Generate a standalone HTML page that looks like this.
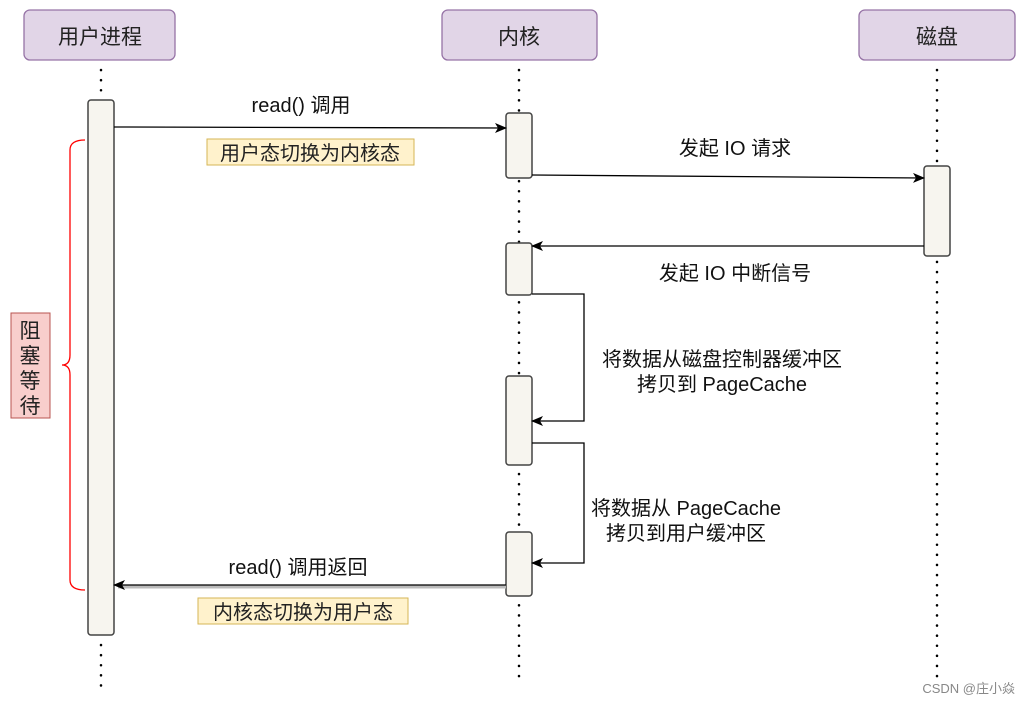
<!DOCTYPE html>
<html><head><meta charset="utf-8"><style>
body{margin:0;background:#fff;width:1031px;height:705px;overflow:hidden;font-family:"Liberation Sans","Noto Sans CJK SC",sans-serif}
</style></head><body>
<svg width="1031" height="705" xmlns="http://www.w3.org/2000/svg" font-family="Liberation Sans, Noto Sans CJK SC, sans-serif">
<defs><marker id="a" markerWidth="12" markerHeight="10" refX="11" refY="5" orient="auto" markerUnits="userSpaceOnUse"><path d="M0,0 L12,5 L0,10 L3,5 Z" fill="#000"/></marker></defs>
<g stroke="#000" stroke-width="2.5" stroke-dasharray="0.1 10" stroke-linecap="round">
<line x1="101" y1="70" x2="101" y2="100"/><line x1="101" y1="645" x2="101" y2="690"/>
<line x1="519" y1="70" x2="519" y2="685"/>
<line x1="937" y1="70" x2="937" y2="680"/>
</g>
<g fill="#e1d5e7" stroke="#9673a6" stroke-width="1.3">
<rect x="24" y="10" width="151" height="50" rx="6"/><rect x="442" y="10" width="155" height="50" rx="6"/><rect x="859" y="10" width="156" height="50" rx="6"/>
</g>
<g font-size="21" text-anchor="middle" fill="#222">
<text x="100" y="44">用户进程</text><text x="519" y="44">内核</text><text x="937" y="44">磁盘</text>
</g>
<g fill="#f7f5ef" stroke="#444" stroke-width="1.5">
<rect x="88" y="100" width="26" height="535" rx="3"/>
<rect x="506" y="113" width="26" height="65" rx="3"/>
<rect x="506" y="243" width="26" height="52" rx="3"/>
<rect x="506" y="376" width="26" height="89" rx="3"/>
<rect x="506" y="532" width="26" height="64" rx="3"/>
<rect x="924" y="166" width="26" height="90" rx="3"/>
</g>
<g stroke="#000" stroke-width="1.3" fill="none" marker-end="url(#a)">
<line x1="114" y1="127" x2="506" y2="128"/>
<line x1="532" y1="175" x2="924" y2="178"/>
<line x1="924" y1="246" x2="532" y2="246"/>
<polyline points="532,294 584,294 584,421 532,421"/>
<polyline points="532,443 584,443 584,563 532,563"/>
</g>
<line x1="506" y1="587" x2="118" y2="587" stroke="#bbb" stroke-width="3"/>
<line x1="506" y1="585" x2="114" y2="585" stroke="#000" stroke-width="1.2" marker-end="url(#a)"/>
<g font-size="20" fill="#111" text-anchor="middle">
<text x="301" y="112">read() 调用</text>
<text x="735" y="155">发起 IO 请求</text>
<text x="735" y="280">发起 IO 中断信号</text>
<text x="722" y="366">将数据从磁盘控制器缓冲区</text>
<text x="722" y="391">拷贝到 PageCache</text>
<text x="686" y="515">将数据从 PageCache</text>
<text x="686" y="540">拷贝到用户缓冲区</text>
<text x="298" y="574">read() 调用返回</text>
</g>
<g fill="#fff2cc" stroke="#d6b656" stroke-width="1">
<rect x="207" y="139" width="207" height="26"/><rect x="198" y="598" width="210" height="26"/>
</g>
<g font-size="20" fill="#222" text-anchor="middle">
<text x="310" y="160">用户态切换为内核态</text><text x="303" y="619">内核态切换为用户态</text>
</g>
<path d="M85,140 Q70,140 70,150 L70,355 Q70,365 62,365 Q70,365 70,375 L70,580 Q70,590 85,590" stroke="#f00" stroke-width="1.3" fill="none"/>
<rect x="11" y="313" width="39" height="105" fill="#f8cecc" stroke="#b85450" stroke-width="1"/>
<g font-size="21" fill="#222" text-anchor="middle">
<text x="30" y="338">阻</text><text x="30" y="363">塞</text><text x="30" y="388">等</text><text x="30" y="413">待</text>
</g>
<text x="1015" y="693" font-size="13" fill="#888" text-anchor="end">CSDN @庄小焱</text>
</svg>
</body></html>
